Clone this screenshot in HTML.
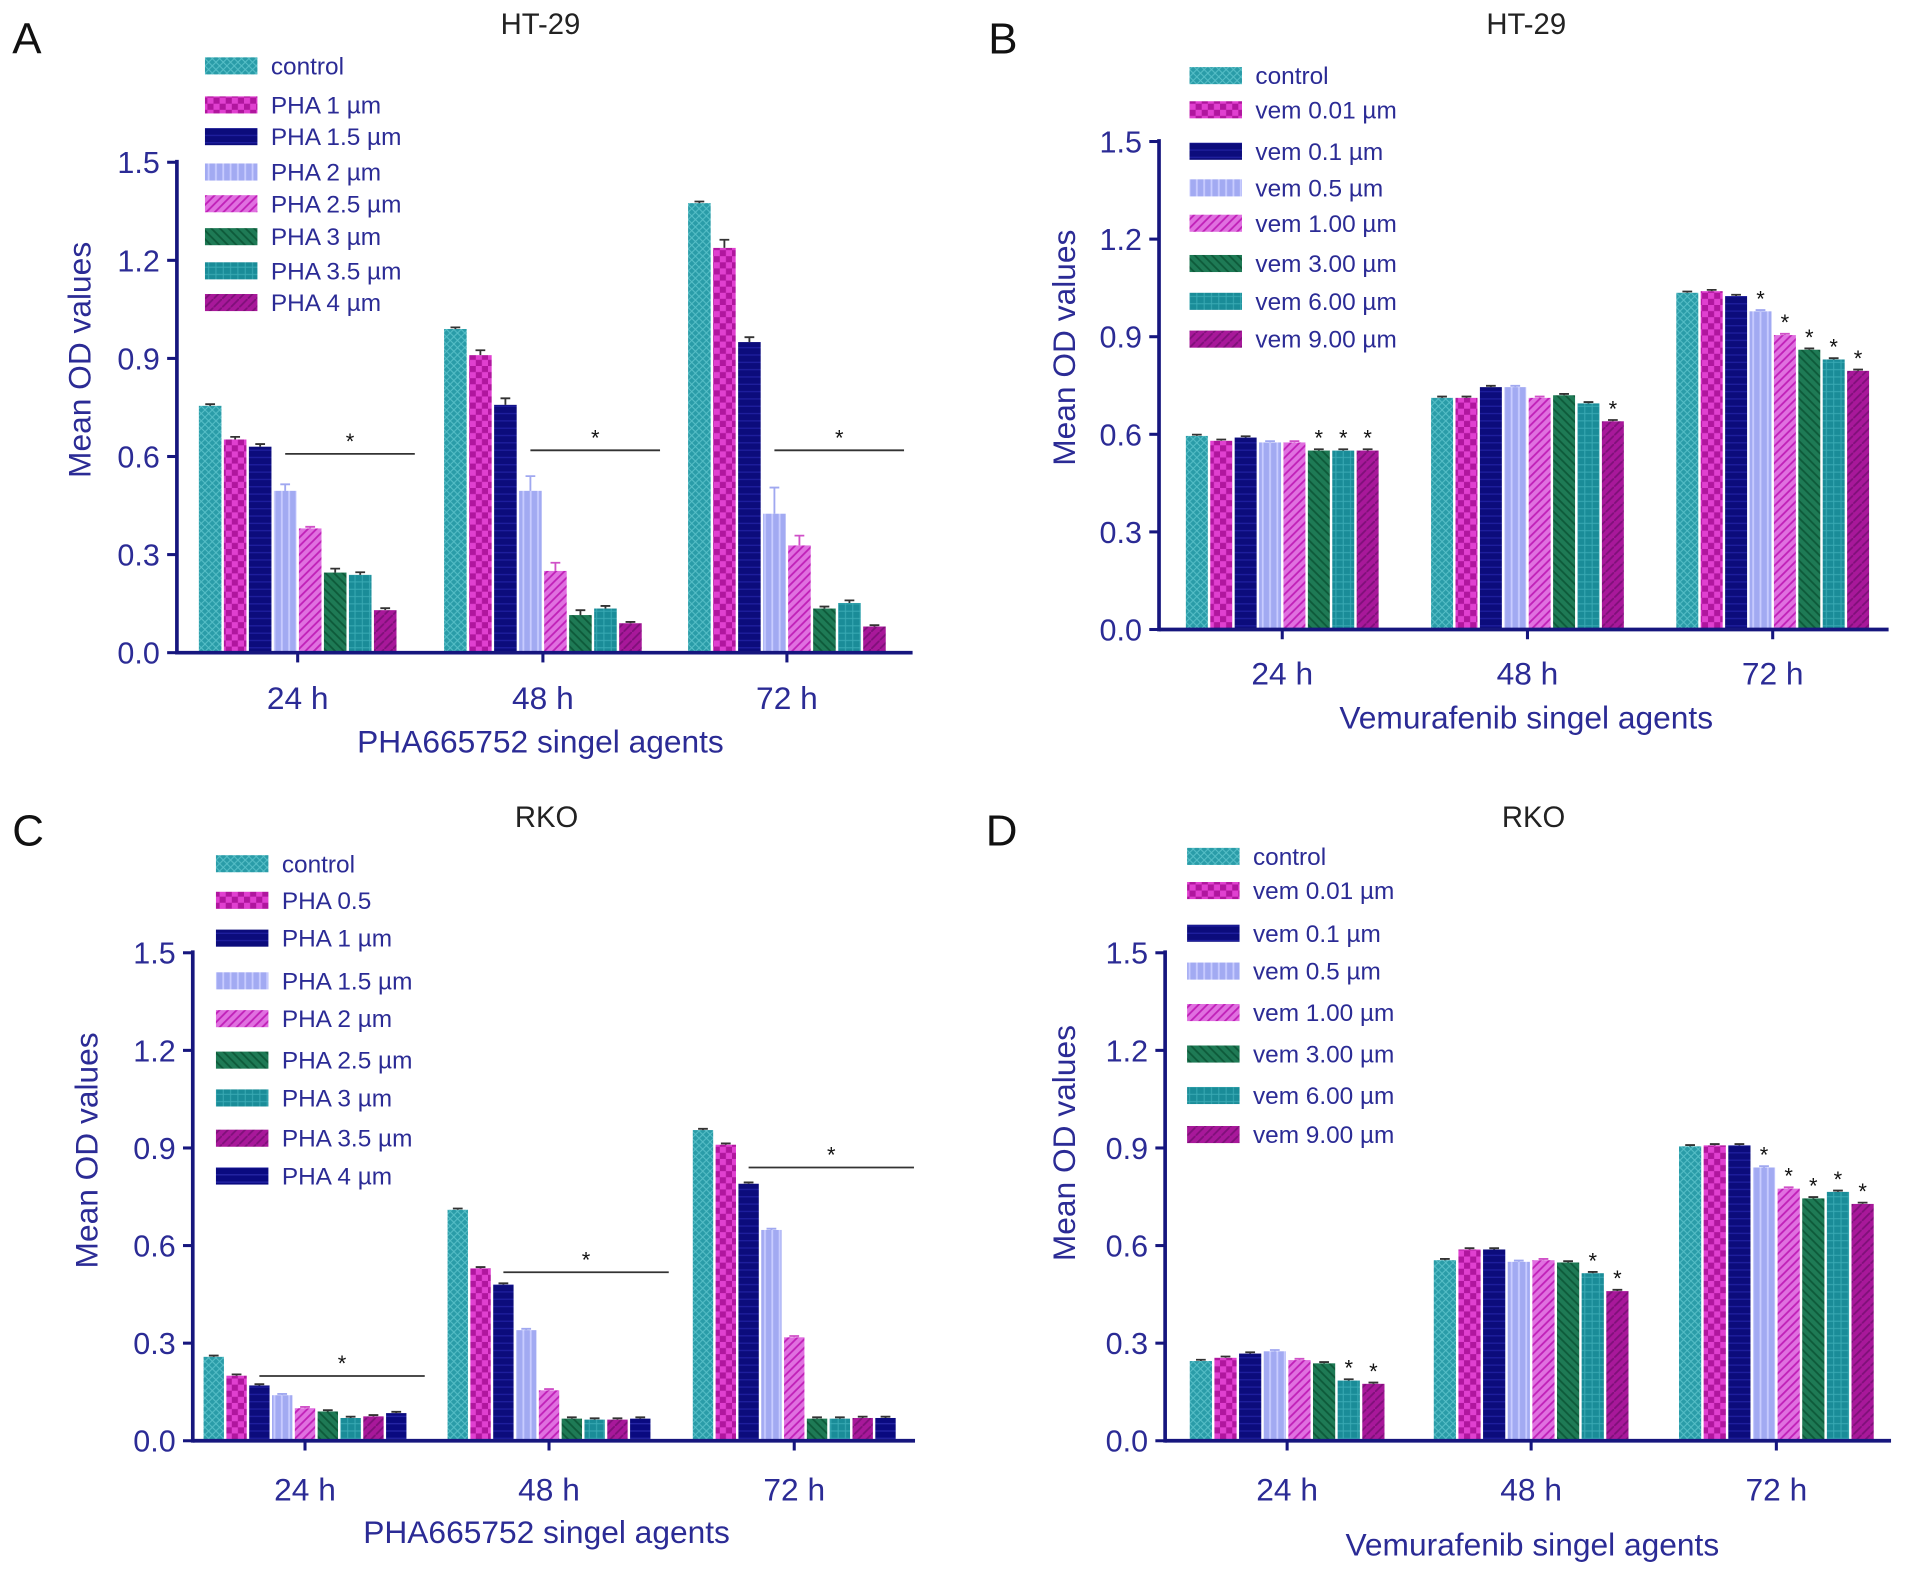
<!DOCTYPE html>
<html><head><meta charset="utf-8"><style>
html,body{margin:0;padding:0;background:#fff}
svg{display:block;font-family:"Liberation Sans",sans-serif}
</style></head><body>
<svg id="fig" width="1913" height="1578" viewBox="0 0 1568 1293.5" preserveAspectRatio="none" xmlns="http://www.w3.org/2000/svg">
<defs>
<pattern id="p0" width="6" height="6" patternUnits="userSpaceOnUse"><rect width="6" height="6" fill="#2a9ca8"/><path d="M0 0L6 6M6 0L0 6" stroke="#58c0c8" stroke-width="0.8"/></pattern>
<pattern id="p1" width="10" height="10" patternUnits="userSpaceOnUse"><rect width="10" height="10" fill="#b0169e"/><rect width="5" height="5" fill="#e040d0"/><rect x="5" y="5" width="5" height="5" fill="#e040d0"/></pattern>
<pattern id="p2" width="6" height="6" patternUnits="userSpaceOnUse"><rect width="6" height="6" fill="#0c0c7c"/><path d="M0 3H6" stroke="#2020a0" stroke-width="1"/></pattern>
<pattern id="p3" width="6" height="6" patternUnits="userSpaceOnUse"><rect width="6" height="6" fill="#a2aaf2"/><path d="M3 0V6" stroke="#c8ccff" stroke-width="1.5"/></pattern>
<pattern id="p4" width="7" height="7" patternUnits="userSpaceOnUse"><rect width="7" height="7" fill="#e070e0"/><path d="M0 7L7 0M-2 2L2 -2M5 9L9 5" stroke="#c020b8" stroke-width="1.5"/></pattern>
<pattern id="p5" width="7" height="7" patternUnits="userSpaceOnUse"><rect width="7" height="7" fill="#1e7a55"/><path d="M0 0L7 7M-2 5L2 9M5 -2L9 2" stroke="#0e5a3a" stroke-width="1.5"/></pattern>
<pattern id="p6" width="6" height="6" patternUnits="userSpaceOnUse"><rect width="6" height="6" fill="#1a8c98"/><path d="M0 3H6M3 0V6" stroke="#3aaab4" stroke-width="0.8"/></pattern>
<pattern id="p7" width="7" height="7" patternUnits="userSpaceOnUse"><rect width="7" height="7" fill="#a8189a"/><path d="M0 7L7 0" stroke="#80107a" stroke-width="1.5"/></pattern>
<pattern id="p8" width="6" height="6" patternUnits="userSpaceOnUse"><rect width="6" height="6" fill="#0a0a80"/><path d="M0 3H6" stroke="#2828a8" stroke-width="1"/></pattern>
</defs>
</svg>
<script>
const groupsLabels = ["24 h","48 h","72 h"];
const yTicks = [0.0,0.3,0.6,0.9,1.2,1.5];
const yTickLabels = ["0.0","0.3","0.6","0.9","1.2","1.5"];
const legendA = ["control","PHA 1 µm","PHA 1.5 µm","PHA 2 µm","PHA 2.5 µm","PHA 3 µm","PHA 3.5 µm","PHA 4 µm"];
const legendB = ["control","vem 0.01 µm","vem 0.1 µm","vem 0.5 µm","vem 1.00 µm","vem 3.00 µm","vem 6.00 µm","vem 9.00 µm"];
const legendC = ["control","PHA 0.5","PHA 1 µm","PHA 1.5 µm","PHA 2 µm","PHA 2.5 µm","PHA 3 µm","PHA 3.5 µm","PHA 4 µm"];
const valuesA = [[.755,.652,.630,.495,.380,.245,.238,.130],[.990,.910,.758,.495,.250,.115,.135,.090],[1.375,1.238,.950,.425,.328,.135,.152,.080]];
const errorsA = [[.005,.008,.008,.02,.005,.012,.008,.006],[.005,.015,.02,.045,.025,.015,.008,.004],[.005,.025,.015,.08,.03,.006,.008,.004]];
const valuesB = [[.595,.580,.590,.575,.575,.550,.550,.550],[.712,.712,.745,.745,.712,.720,.695,.640],[1.035,1.040,1.025,.978,.905,.860,.830,.795]];
const valuesC = [[.258,.200,.170,.140,.100,.090,.070,.075,.085],[.710,.530,.480,.340,.155,.068,.065,.065,.068],[.955,.910,.790,.648,.318,.068,.068,.070,.070]];
const valuesD = [[.245,.255,.268,.275,.248,.238,.185,.175],[.555,.588,.588,.550,.555,.548,.515,.460],[.905,.908,.908,.840,.775,.745,.765,.728]];
const starsB = [[5,6,7],[7],[3,4,5,6,7]];
const starsD = [[6,7],[6,7],[3,4,5,6,7]];
const sigLineA = [0.608,0.619,0.619];
const sigLineC = [0.199,0.518,0.84];

const NS="http://www.w3.org/2000/svg";
const svg=document.getElementById('fig');
const TXT="#2b2b95", AX="#16167e";
function mk(tag,attrs,parent){const e=document.createElementNS(NS,tag);for(const k in attrs)e.setAttribute(k,attrs[k]);(parent||svg).appendChild(e);return e;}
function txt(s,x,y,size,anchor,parent,fill){const t=mk('text',{x:x,y:y,'font-size':size,'text-anchor':anchor||'start',fill:fill||TXT},parent);t.textContent=s;return t;}

function panel(cfg){
  const g=mk('g',{});
  
  
  const yS=v=>cfg.y0-(cfg.y0-cfg.y15)*v/1.5;
  const n=cfg.values[0].length;
  const bw=cfg.bw;
  const L=txt(cfg.id.toUpperCase(),cfg.lx,cfg.ly,36,'start',g,'#111');
  
  const T=txt(cfg.title,cfg.tx,cfg.ty,24,'middle',g,'#222');
  
  yTicks.forEach((v,i)=>{
    const tl=mk('line',{x1:cfg.ax-8,x2:cfg.ax,y1:yS(v),y2:yS(v),stroke:AX,'stroke-width':2.5},g);
    
    const t=txt(yTickLabels[i],cfg.ax-14,yS(v)+9,25,'end',g);
    
  });
  const yt=txt('Mean OD values',0,0,26,'middle',g);
  yt.setAttribute('transform','translate('+cfg.ytx+','+cfg.yty+') rotate(-90)');
  
  cfg.values.forEach((grp,gi)=>{
    const c=cfg.cx[gi], start=c-n*bw/2;
    grp.forEach((v,bi)=>{
      const x=start+bi*bw;
      const r=mk('rect',{x:x+1,y:yS(v),width:bw-2,height:yS(0)-yS(v),fill:'url(#p'+bi+')'},g);
      
      
      const e=cfg.err?cfg.err[gi][bi]:0.004;
      const eb=mk('path',{d:'M'+(x+bw/2)+' '+yS(v)+'V'+yS(v+e)+'M'+(x+bw/2-4)+' '+yS(v+e)+'H'+(x+bw/2+4),stroke:bi==3?'#a0a8f0':(bi==4?'#d050c8':'#333'),'stroke-width':1.5,fill:'none'},g);
      
    });
    if(cfg.stars){cfg.stars[gi].forEach(bi=>{
      const x=start+bi*bw+bw/2;
      const s=txt('*',x,yS(grp[bi])-4,18,'middle',g,'#111');
      
    });}
    if(cfg.sig){
      const x1=start+cfg.sigStart*bw, x2=c+n*bw/2+14;
      const ln=mk('line',{x1:x1,x2:x2,y1:yS(cfg.sig[gi]),y2:yS(cfg.sig[gi]),stroke:'#333','stroke-width':1.5},g);
      
      const s=txt('*',(x1+x2)/2,yS(cfg.sig[gi])-4,18,'middle',g,'#111');
      
    }
    const xt=mk('line',{x1:c,x2:c,y1:yS(0),y2:yS(0)+8,stroke:AX,'stroke-width':2.5},g);
    
    const xl=txt(groupsLabels[gi],c,cfg.xly,26,'middle',g);
    
  });
  const ya=mk('line',{x1:cfg.ax,x2:cfg.ax,y1:cfg.y15-2,y2:yS(0)+1.5,stroke:AX,'stroke-width':3},g);
  
  const xa=mk('line',{x1:cfg.ax,x2:cfg.axEnd,y1:yS(0),y2:yS(0),stroke:AX,'stroke-width':3},g);
  
  const xT=txt(cfg.xtitle,cfg.xtx,cfg.xty,26,'middle',g);
  
  cfg.legend.forEach((s,i)=>{
    const y=cfg.legY[i];
    const sw=mk('rect',{x:cfg.legX,y:y-7,width:43,height:14,fill:'url(#p'+i+')'},g);
    
    const t=txt(s,cfg.legX+54,y+7,20,'start',g);
    
  });
}

panel({id:'a',title:'HT-29',lx:10,ly:44,tx:443,ty:28,ax:145,axEnd:748,y0:535,y15:133,cx:[244,445,645],bw:20.5,
  values:valuesA,err:errorsA,sig:sigLineA,sigStart:3.5,xly:581,xtitle:'PHA665752 singel agents',xtx:443,xty:617,ytx:74,yty:295,
  legend:legendA,legX:168,legY:[54,86,112,141,167,194,222,248]});
panel({id:'b',title:'HT-29',lx:810,ly:44,tx:1251,ty:28,ax:950,axEnd:1548,y0:516,y15:116,cx:[1051,1252,1453],bw:20,
  values:valuesB,stars:starsB,xly:561,xtitle:'Vemurafenib singel agents',xtx:1251,xty:597,ytx:881,yty:285,
  legend:legendB,legX:975,legY:[62,90,124,154,183,216,247,278]});
panel({id:'c',title:'RKO',lx:10,ly:693,tx:448,ty:678,ax:158,axEnd:750,y0:1181,y15:781,cx:[250,450,651],bw:18.7,
  values:valuesC,sig:sigLineC,sigStart:2.5,xly:1230,xtitle:'PHA665752 singel agents',xtx:448,xty:1265,ytx:80,yty:943,
  legend:legendC,legX:177,legY:[708,738,769,804,835,869,900,933,964]});
panel({id:'d',title:'RKO',lx:808,ly:693,tx:1257,ty:678,ax:955,axEnd:1550,y0:1181,y15:781,cx:[1055,1255,1456],bw:20.2,
  values:valuesD,stars:starsD,xly:1230,xtitle:'Vemurafenib singel agents',xtx:1256,xty:1275,ytx:881,yty:937,
  legend:legendB,legX:973,legY:[702,730,765,796,830,864,898,930]});
</script>
</body></html>
